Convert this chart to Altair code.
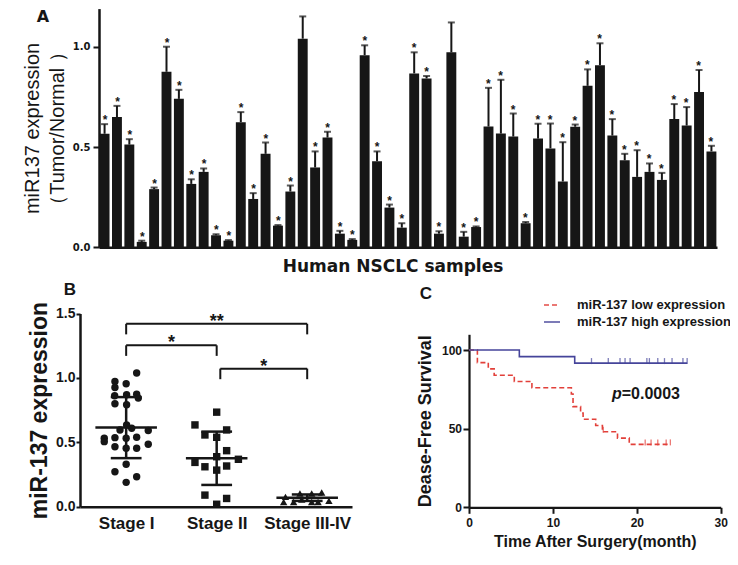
import json
import altair as alt
import pandas as pd

INK = "#161616"

# ---------------- Panel A : miR137 expression per sample ----------------
a_samples = list(range(1, 51))
a_values = [0.566, 0.649, 0.512, 0.027, 0.290, 0.875, 0.740, 0.316, 0.376, 0.060,
            0.033, 0.624, 0.241, 0.466, 0.108, 0.278, 1.040, 0.398, 0.547, 0.068,
            0.037, 0.958, 0.429, 0.198, 0.098, 0.867, 0.842, 0.068, 0.972, 0.053,
            0.101, 0.602, 0.567, 0.552, 0.120, 0.542, 0.493, 0.328, 0.601, 0.805,
            0.908, 0.557, 0.434, 0.351, 0.376, 0.336, 0.639, 0.607, 0.774, 0.478]
a_err_top = [0.614, 0.705, 0.539, 0.033, 0.298, 1.000, 0.785, 0.339, 0.393, 0.065,
             0.036, 0.674, 0.270, 0.522, 0.111, 0.308, 1.151, 0.478, 0.576, 0.082,
             0.041, 1.007, 0.478, 0.213, 0.120, 0.972, 0.854, 0.080, 1.121, 0.077,
             0.104, 0.795, 0.835, 0.667, 0.126, 0.616, 0.617, 0.524, 0.612, 0.887,
             1.017, 0.639, 0.466, 0.484, 0.418, 0.371, 0.714, 0.699, 0.884, 0.506]
a_signif = [1] * 50
a_signif[16] = 0
a_signif[28] = 0

# ---------------- Panel B : expression by stage ----------------
stage_names = ["Stage I", "Stage II", "Stage III-IV"]
b1_values = [1.038, 0.973, 0.955, 0.926, 0.861, 0.869, 0.874, 0.843, 0.799, 0.791,
             0.635, 0.596, 0.609, 0.591, 0.531, 0.505, 0.536, 0.531, 0.539, 0.485,
             0.466, 0.454, 0.454, 0.329, 0.271, 0.232, 0.189]
b1_jitter = [0.116, -0.124, 0.0, -0.124, -0.127, 0.005, 0.116, 0.134, -0.124, 0.005,
             0.005, -0.068, 0.061, 0.244, -0.242, -0.242, -0.124, 0.0, 0.116, 0.244,
             -0.124, 0.0, 0.116, 0.0, -0.124, 0.116, 0.0]
b2_values = [0.734, 0.635, 0.596, 0.557, 0.539, 0.435, 0.388, 0.344, 0.310, 0.316,
             0.368, 0.284, 0.090, 0.064, 0.019]
b2_jitter = [0.0, -0.24, 0.11, -0.13, 0.0, 0.11, 0.0, -0.24, -0.13, 0.11,
             0.24, 0.0, -0.13, 0.11, 0.0]
b3_values = [0.076, 0.037, 0.037, 0.103, 0.056, 0.103, 0.037, 0.110, 0.037, 0.045]
b3_jitter = [-0.24, -0.26, -0.15, -0.08, -0.06, 0.05, 0.05, 0.16, 0.12, 0.24]
b_means = [0.614, 0.376, 0.070]
b_sds = [0.237, 0.207, 0.025]
bracket_from = [0, 0, 1.04]
bracket_to = [2, 1, 2]
bracket_height = [1.42, 1.253, 1.072]
bracket_text = ["**", "*", "*"]
bracket_leg = 0.082

# ---------------- Panel C : Kaplan-Meier ----------------
group_names = ["miR-137 low expression", "miR-137 high expression"]
low_time = [0, 1.0, 2.3, 3.0, 5.4, 7.5, 12.2, 12.4, 13.3, 13.6, 15.1, 15.9, 17.7, 19.1, 24.0]
low_surv = [100, 92, 88, 84, 80, 76, 72, 64, 60, 56, 52, 48, 44, 40, 40]
high_time = [0, 6.0, 12.6, 26.0]
high_surv = [100, 95.8, 91.7, 91.7]
low_censor_time = [16.0, 21.0, 21.7, 22.5, 23.5, 24.0]
low_censor_surv = [48, 40, 40, 40, 40, 40]
high_censor_time = [14.6, 16.6, 18.0, 18.6, 19.2, 21.2, 21.5, 22.5, 23.3, 24.2, 25.5, 26.0]
high_censor_surv = [91.7] * 12
p_time = 18.2
p_surv = 68.7
p_parts = ["p", "=0.0003"]

panel_letters = ["A", "B", "C"]

# ======================= Panel A =======================
dfA = pd.DataFrame({"sample": a_samples, "value": a_values, "err": a_err_top, "sig": a_signif})
xA_scale = alt.Scale(domain=a_samples, range=[91, 709], paddingInner=0.2, paddingOuter=0.05)
yA_scale = alt.Scale(domain=[0, 1.19], range=[239.3, 0.6], nice=False)
xA_axis = alt.Axis(orient="bottom", offset=-309.7, labels=False, ticks=False,
                   domainWidth=2.5, title="Human NSCLC samples", titleFont="DejaVu Sans",
                   titleFontSize=17, titleFontWeight="bold", titleX=384.5, titleY=11,
                   titleBaseline="top")
yA_axis = alt.Axis(orient="left", offset=-91, values=[0, 0.5, 1.0], format=".1f",
                   labelFont="DejaVu Sans", labelFontSize=10, labelFontWeight="bold",
                   tickSize=6, tickWidth=2, domainWidth=2.5, labelPadding=3,
                   title=["miR137 expression", "（Tumor/Normal ）"],
                   titleFont="Liberation Sans", titleFontSize=20, titleFontWeight="normal",
                   titleLineHeight=25, titlePadding=5)

xA = alt.X("sample:O", scale=xA_scale, axis=None)
barsA = alt.Chart(dfA).mark_bar(color=INK).encode(
    x=alt.X("sample:O", scale=xA_scale, axis=xA_axis),
    y=alt.Y("value:Q", scale=yA_scale, axis=yA_axis))
errA = alt.Chart(dfA).mark_rule(color=INK, strokeWidth=2).encode(
    x=xA, y=alt.Y("value:Q", scale=yA_scale, axis=None), y2="err:Q")
capA = alt.Chart(dfA).mark_tick(color=INK, thickness=2, size=7).encode(
    x=xA, y=alt.Y("err:Q", scale=yA_scale, axis=None))
starA = alt.Chart(dfA).mark_text(text="*", font="Liberation Sans", fontSize=12,
                                 fontWeight="bold", baseline="alphabetic", color=INK).encode(
    x=xA, y=alt.Y("err:Q", scale=yA_scale, axis=None)).transform_filter("datum.sig == 1")

# ======================= Panel B =======================
rows = []
for idx, (vals, jit) in enumerate([(b1_values, b1_jitter), (b2_values, b2_jitter), (b3_values, b3_jitter)]):
    for v, j in zip(vals, jit):
        rows.append({"stage": idx, "jit": j, "value": v})
dfB = pd.DataFrame(rows)
dfBstat = pd.DataFrame({"stage": [0, 1, 2], "mean": b_means, "sd": b_sds})
dfBr = pd.DataFrame({"x1": bracket_from, "x2": bracket_to, "h": bracket_height, "lab": bracket_text})
legs = []
for l, r, h in zip(bracket_from, bracket_to, bracket_height):
    legs.append({"x": l, "top": h})
    legs.append({"x": r, "top": h})
dfLegs = pd.DataFrame(legs)

xB_scale = alt.Scale(domain=[-0.51, 2.495], range=[72, 344], nice=False, zero=False)
yB_scale = alt.Scale(domain=[0, 1.5], range=[498.7, 305.5], nice=False)
label_expr = json.dumps(stage_names) + "[datum.value]"
xB_axis = alt.Axis(orient="bottom", offset=-50.3, values=[0, 1, 2], labelExpr=label_expr,
                   ticks=False, tickSize=0, domainWidth=2.5, labelFont="Liberation Sans",
                   labelFontSize=17, labelFontWeight="bold", labelPadding=9, title=None)
yB_axis = alt.Axis(orient="left", offset=-72, values=[0, 0.5, 1.0, 1.5], format=".1f",
                   labelFont="Liberation Sans", labelFontSize=14, labelFontWeight="bold",
                   tickSize=4, tickWidth=2, domainWidth=2.5, labelPadding=1,
                   title="miR-137 expression", titleFont="Liberation Sans", titleFontSize=23,
                   titleFontWeight="bold", titlePadding=4)

pointsB = alt.Chart(dfB).mark_point(filled=True, size=55, opacity=1, color=INK).transform_calculate(
    xpos="datum.stage + datum.jit").encode(
    x=alt.X("xpos:Q", scale=xB_scale, axis=xB_axis),
    y=alt.Y("value:Q", scale=yB_scale, axis=yB_axis),
    shape=alt.Shape("stage:N", scale=alt.Scale(domain=[0, 1, 2], range=["circle", "square", "triangle-up"]), legend=None))
meanB = alt.Chart(dfBstat).mark_rule(color=INK, strokeWidth=2.5).transform_calculate(
    a="datum.stage - 0.34", b="datum.stage + 0.34").encode(
    x=alt.X("a:Q", scale=xB_scale, axis=None), x2="b:Q",
    y=alt.Y("mean:Q", scale=yB_scale, axis=None))
sdHiB = alt.Chart(dfBstat).mark_rule(color=INK, strokeWidth=2.5).transform_calculate(
    a="datum.stage - 0.17", b="datum.stage + 0.17", yy="datum.mean + datum.sd").encode(
    x=alt.X("a:Q", scale=xB_scale, axis=None), x2="b:Q",
    y=alt.Y("yy:Q", scale=yB_scale, axis=None))
sdLoB = alt.Chart(dfBstat).mark_rule(color=INK, strokeWidth=2.5).transform_calculate(
    a="datum.stage - 0.17", b="datum.stage + 0.17", yy="datum.mean - datum.sd").encode(
    x=alt.X("a:Q", scale=xB_scale, axis=None), x2="b:Q",
    y=alt.Y("yy:Q", scale=yB_scale, axis=None))
vB = alt.Chart(dfBstat).mark_rule(color=INK, strokeWidth=2.5).transform_calculate(
    lo="datum.mean - datum.sd", hi="datum.mean + datum.sd").encode(
    x=alt.X("stage:Q", scale=xB_scale, axis=None),
    y=alt.Y("lo:Q", scale=yB_scale, axis=None), y2="hi:Q")
brH = alt.Chart(dfBr).mark_rule(color=INK, strokeWidth=2).encode(
    x=alt.X("x1:Q", scale=xB_scale, axis=None), x2="x2:Q",
    y=alt.Y("h:Q", scale=yB_scale, axis=None))
brL = alt.Chart(dfLegs).mark_rule(color=INK, strokeWidth=2).transform_calculate(
    bot=f"datum.top - {bracket_leg}").encode(
    x=alt.X("x:Q", scale=xB_scale, axis=None),
    y=alt.Y("top:Q", scale=yB_scale, axis=None), y2="bot:Q")
brT = alt.Chart(dfBr).mark_text(font="Liberation Sans", fontSize=18, fontWeight="bold",
                                baseline="alphabetic", dy=3, color=INK).transform_calculate(
    mid="(datum.x1 + datum.x2) / 2").encode(
    x=alt.X("mid:Q", scale=xB_scale, axis=None),
    y=alt.Y("h:Q", scale=yB_scale, axis=None), text="lab:N")

# ======================= Panel C =======================
km_rows = [{"group": group_names[0], "time": t, "surv": s} for t, s in zip(low_time, low_surv)] + \
          [{"group": group_names[1], "time": t, "surv": s} for t, s in zip(high_time, high_surv)]
dfKM = pd.DataFrame(km_rows)
cen_rows = [{"group": group_names[0], "time": t, "surv": s} for t, s in zip(low_censor_time, low_censor_surv)] + \
           [{"group": group_names[1], "time": t, "surv": s} for t, s in zip(high_censor_time, high_censor_surv)]
dfCen = pd.DataFrame(cen_rows)
dfP = pd.DataFrame({"time": [p_time], "surv": [p_surv], "p": [p_parts[0]], "rest": [p_parts[1]]})

xC_scale = alt.Scale(domain=[0, 30], range=[461, 712.7], nice=False)
yC_scale = alt.Scale(domain=[0, 110], range=[499.3, 326.3], nice=False)
xC_axis = alt.Axis(orient="bottom", offset=-49.7, values=[0, 10, 20, 30], tickSize=6, tickWidth=2,
                   domainWidth=2.2, labelFont="Liberation Sans", labelFontSize=12,
                   labelFontWeight="bold", labelPadding=4, title="Time After Surgery(month)",
                   titleFont="Liberation Sans", titleFontSize=16, titleFontWeight="bold",
                   titlePadding=5)
yC_axis = alt.Axis(orient="left", offset=-461, values=[0, 50, 100], tickSize=6, tickWidth=2,
                   domainWidth=2.2, labelFont="Liberation Sans", labelFontSize=12,
                   labelFontWeight="bold", labelPadding=1.5, title="Dease-Free Survival",
                   titleFont="Liberation Sans", titleFontSize=18, titleFontWeight="bold",
                   titlePadding=7)
color_scale = alt.Scale(domain=group_names, range=["#e2403a", "#45449a"])
dash_scale = alt.Scale(domain=group_names, range=[[5, 3], [1, 0]])
legend = alt.Legend(title=None, orient="none", legendX=535, legendY=288, symbolType="stroke",
                    symbolSize=256, symbolStrokeWidth=1.8, labelFont="Liberation Sans",
                    labelFontSize=13, labelFontWeight="bold", labelOffset=16, rowPadding=1,
                    padding=0, labelLimit=300, labelColor=INK)

kmLine = alt.Chart(dfKM).mark_line(interpolate="step-after", strokeWidth=1.6).encode(
    x=alt.X("time:Q", scale=xC_scale, axis=xC_axis),
    y=alt.Y("surv:Q", scale=yC_scale, axis=yC_axis),
    color=alt.Color("group:N", scale=color_scale, legend=legend),
    strokeDash=alt.StrokeDash("group:N", scale=dash_scale, legend=legend))
cenC = alt.Chart(dfCen).mark_tick(orient="vertical", size=6, thickness=1.3, yOffset=-2).encode(
    x=alt.X("time:Q", scale=xC_scale, axis=None),
    y=alt.Y("surv:Q", scale=yC_scale, axis=None),
    color=alt.Color("group:N", scale=color_scale, legend=legend))
pC1 = alt.Chart(dfP).mark_text(font="Liberation Sans", fontSize=16, fontStyle="italic",
                               fontWeight="bold", align="right", baseline="alphabetic",
                               color=INK).encode(
    x=alt.X("time:Q", scale=xC_scale, axis=None),
    y=alt.Y("surv:Q", scale=yC_scale, axis=None), text="p:N")
pC2 = alt.Chart(dfP).mark_text(font="Liberation Sans", fontSize=16, fontWeight="bold",
                               align="left", baseline="alphabetic", color=INK).encode(
    x=alt.X("time:Q", scale=xC_scale, axis=None),
    y=alt.Y("surv:Q", scale=yC_scale, axis=None), text="rest:N")

# ======================= Panel letters =======================
dfL = pd.DataFrame({"lab": panel_letters})
letA = alt.Chart(dfL).transform_filter("datum.lab == 'A'").mark_text(
    font="DejaVu Sans", fontSize=16, fontWeight="bold", align="center", baseline="alphabetic",
    color=INK).encode(text="lab:N", x=alt.value(35), y=alt.value(14))
letB = alt.Chart(dfL).transform_filter("datum.lab == 'B'").mark_text(
    font="Liberation Sans", fontSize=17, fontWeight="bold", align="center", baseline="alphabetic",
    color=INK).encode(text="lab:N", x=alt.value(62), y=alt.value(287))
letC = alt.Chart(dfL).transform_filter("datum.lab == 'C'").mark_text(
    font="Liberation Sans", fontSize=17, fontWeight="bold", align="center", baseline="alphabetic",
    color=INK).encode(text="lab:N", x=alt.value(418), y=alt.value(290.5))

chart = alt.layer(
    barsA, errA, capA, starA,
    pointsB, meanB, sdHiB, sdLoB, vB, brH, brL, brT,
    kmLine, cenC, pC1, pC2,
    letA, letB, letC
).resolve_scale(
    x="independent", y="independent"
).resolve_axis(
    x="independent", y="independent"
).properties(
    width=722, height=549, autosize=alt.AutoSizeParams(type="none"), padding=0,
    background="white"
).configure_view(strokeWidth=0).configure_axis(
    grid=False, labelColor=INK, titleColor=INK, domainColor=INK, tickColor=INK,
    labelFlush=False, labelOverlap=False
)

chart.save("out.html", embed_options={"renderer": "svg", "actions": False})
